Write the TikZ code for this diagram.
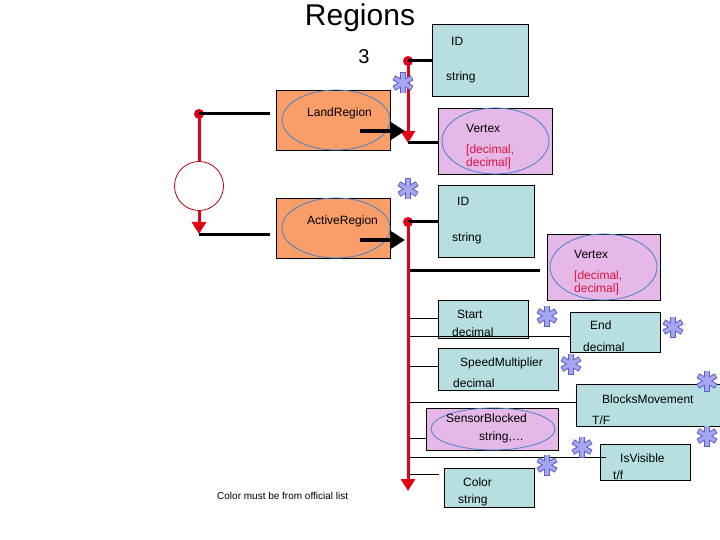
\documentclass[tikz,border=0pt]{standalone}
\usepackage{fontspec}
\setmainfont{Liberation Sans}
\usetikzlibrary{arrows.meta,shapes.geometric}
\definecolor{vred}{RGB}{228,0,20}
\definecolor{redtxt}{RGB}{220,20,60}
\definecolor{landfill}{RGB}{249,158,104}
\definecolor{idcyan}{RGB}{183,223,225}
\definecolor{vpink}{RGB}{229,184,232}
\definecolor{ovalblue}{RGB}{70,130,200}
\definecolor{lav}{RGB}{165,165,240}
\definecolor{lavdark}{RGB}{95,95,200}

\begin{document}
\begin{tikzpicture}[x=1pt,y=-1pt,font=\fontsize{12}{14}\selectfont,
 box/.style={draw=black,line width=.9pt,inner sep=0},
 cyanbox/.style={box,fill=idcyan},
 pinkbox/.style={box,fill=vpink},
 orangebox/.style={box,fill=landfill},
 oval/.style={ellipse,draw=ovalblue,line width=.8pt,inner sep=0},
 lbl/.style={anchor=west,inner sep=0},
 redlbl/.style={lbl,text=redtxt},
 spine/.style={draw=vred,line width=3pt},
 spinearr/.style={spine,-{Triangle[length=12pt,width=14pt]}},
 dot/.style={circle,fill=vred,inner sep=0,minimum size=10pt},
 link/.style={line width=3pt},
 thinlink/.style={line width=1pt},
 fatarr/.style={line width=4.5pt,-{Triangle[length=15pt,width=18pt]}},
 aster/.pic={
  \foreach \a in {90,30,-30} {\draw[lavdark,line width=5.6pt] (\a:10.5) -- (\a+180:10.5);}
  \foreach \a in {90,30,-30} {\draw[lav,line width=3.6pt] (\a:9.6) -- (\a+180:9.6);}
 }]
\useasboundingbox (0,0) rectangle (720,540);

% heading
\node[font=\fontsize{30}{32}\selectfont] (title) at (360,18) {Regions};
\node[font=\fontsize{20}{22}\selectfont] (count) at (364,57) {3};

% loop on the left
\node[circle,draw=vred!80!black,line width=.8pt,minimum size=49pt,inner sep=0] (loop) at (199,186) {};
\node[dot] (ltop) at (199,114) {};
\coordinate (lbot) at (199,234);
\coordinate (ltopend) at (270,114);
\coordinate (lbotend) at (270,234);
\draw[spine] (ltop.center) -- (loop.north);
\draw[spinearr] (loop.south) -- (lbot);
\draw[link] (ltop.center) -- (ltopend);
\draw[link] (lbot) -- (lbotend);

% region boxes
\node[orangebox,minimum width=114pt,minimum height=60pt] (land) at (333,120) {};
\node[oval,minimum width=108pt,minimum height=60pt] (landoval) at (336,120) {};
\node[lbl] (landtxt) at (307,113) {LandRegion};
\node[orangebox,minimum width=114pt,minimum height=60pt] (active) at (333,228) {};
\node[oval,minimum width=108pt,minimum height=60pt] (activeoval) at (336,228) {};
\node[lbl] (activetxt) at (307,221) {ActiveRegion};

% LandRegion members
\node[dot] (d1) at (408,61) {};
\coordinate (t1) at (408,143);
\node[cyanbox,minimum width=96pt,minimum height=72pt] (id1) at (480,60) {};
\node[lbl] at (451,41) {ID};
\node[lbl] at (446,77) {string};
\node[pinkbox,minimum width=114pt,minimum height=66pt] (vert1) at (495,141) {};
\node[oval,minimum width=107pt,minimum height=66pt] (vert1oval) at (495.5,141) {};
\node[lbl] at (466,128) {Vertex};
\node[redlbl] at (466,150) {[decimal,};
\node[redlbl] at (466,163) {decimal]};
\draw[spinearr] (d1.center) -- (t1);
\draw[link] (d1.center) -- (id1.west |- d1);
\draw[link] (t1) -- (vert1.west |- t1);
\coordinate (la) at (360,131);
\draw[fatarr] (la) -- ([xshift=-3pt]t1 |- la);

% ActiveRegion members
\node[dot] (d2) at (408,222) {};
\coordinate (t2) at (408,491);
\foreach \n/\y in {1/270,2/318,3/336,4/366,5/402,6/438,7/457,8/474} {\coordinate (s\n) at (408,\y);}
\node[cyanbox,minimum width=96pt,minimum height=72pt] (id2) at (486,221) {};
\node[lbl] at (457,201) {ID};
\node[lbl] at (452,238) {string};
\node[pinkbox,minimum width=113pt,minimum height=66pt] (vert2) at (603.5,267) {};
\node[oval,minimum width=107pt,minimum height=66pt] (vert2oval) at (603.5,267) {};
\node[lbl] at (574,254) {Vertex};
\node[redlbl] at (574,276) {[decimal,};
\node[redlbl] at (574,289) {decimal]};
\node[cyanbox,minimum width=90pt,minimum height=38pt] (start) at (483,319) {};
\node[lbl] at (457,314) {Start};
\node[lbl] at (452,332) {decimal};
\node[cyanbox,minimum width=90pt,minimum height=40pt] (endb) at (615,332) {};
\node[lbl] at (590,325) {End};
\node[lbl] at (583,347) {decimal};
\node[cyanbox,minimum width=120pt,minimum height=42pt] (speed) at (498,369) {};
\node[lbl] at (460,363) {SpeedMultiplier};
\node[lbl] at (453,383) {decimal};
\node[cyanbox,minimum width=168pt,minimum height=42pt] (blocks) at (660,405) {};
\node[lbl] at (602,399) {BlocksMovement};
\node[lbl] at (592,420) {T/F};
\node[pinkbox,minimum width=132pt,minimum height=42pt] (sensor) at (492,429) {};
\node[oval,minimum width=124pt,minimum height=42pt] (sensoroval) at (493,429) {};
\node[lbl] at (446,418) {SensorBlocked};
\node[lbl] at (479,437) {string,\dots};
\node[cyanbox,minimum width=90pt,minimum height=36pt] (visible) at (645,462) {};
\node[lbl] at (620,458) {IsVisible};
\node[lbl] at (613,475) {t/f};
\node[cyanbox,minimum width=90pt,minimum height=39pt] (color) at (489,487.5) {};
\node[lbl] at (463,482) {Color};
\node[lbl] at (458,500) {string};

\draw[link] (d2.center) -- (id2.west |- d2);
\draw[link] (s1) -- ([xshift=-7pt]vert2.west |- s1);
\draw[thinlink] (s2) -- (start.west |- s2);
\draw[thinlink] (s3) -- (endb.west |- s3);
\draw[thinlink] (s4) -- (speed.west |- s4);
\draw[thinlink] (s5) -- (blocks.west |- s5);
\draw[thinlink] (s6) -- (sensor.west |- s6);
\draw[thinlink] (s7) -- ([xshift=6pt]visible.west |- s7);
\draw[thinlink] (s8) -- ([xshift=-5pt]color.west |- s8);
\draw[spinearr] (d2.center) -- (t2);
\coordinate (aa) at (360,240);
\draw[fatarr] (aa) -- ([xshift=-3pt]t2 |- aa);

% multiplicity marks
\foreach \x/\y in {403/83,408/189,547/316,673/327,571/364,707/381,707/436,582/447,547/465}
 {\pic at (\x,\y) {aster};}

\node[lbl,font=\fontsize{10}{12}\selectfont] (note) at (217,496) {Color must be from official list};
\end{tikzpicture}
\end{document}
